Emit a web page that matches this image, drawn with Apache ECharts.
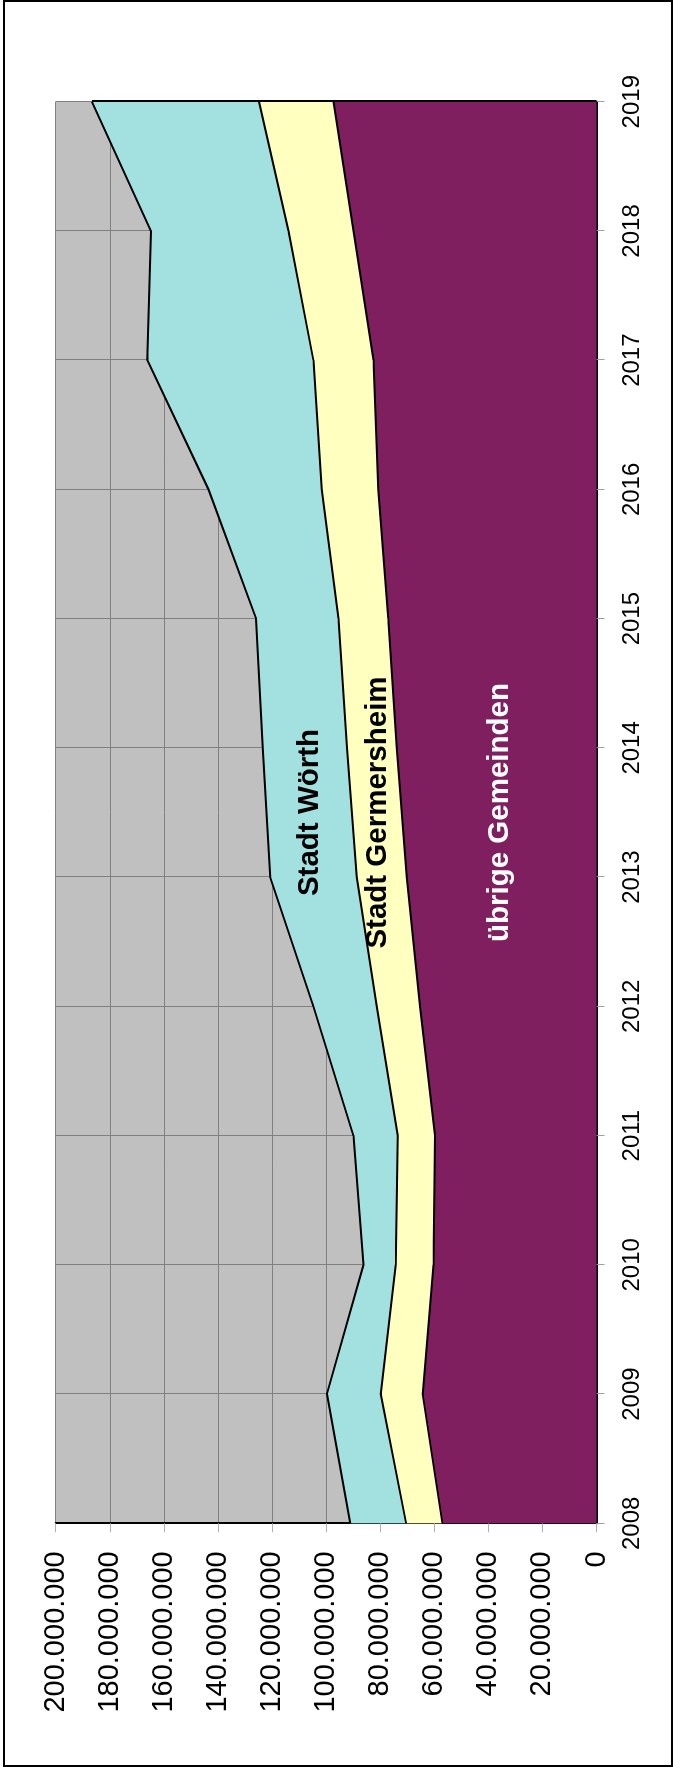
<!DOCTYPE html>
<html>
<head>
<meta charset="utf-8">
<script src="https://cdn.jsdelivr.net/npm/echarts@6/dist/echarts.min.js"></script>
<style>
  html, body { margin: 0; padding: 0; background: #fff; }
  #page { position: relative; width: 674px; height: 1767px; overflow: hidden; }
  #frame { position: absolute; left: 3px; top: 0; width: 670px; height: 1767px;
           border: 2px solid #000; box-sizing: border-box; pointer-events: none; z-index: 2; }
  /* the chart is laid out landscape and turned a quarter turn counter-clockwise */
  #chart { position: absolute; left: 0; top: 0; width: 1767px; height: 674px;
           transform-origin: 0 0; transform: translate(0, 1767px) rotate(-90deg); }
</style>
</head>
<body>
<div id="page">
  <div id="chart"></div>
  <div id="frame"></div>
</div>
<script>
// Years on the category axis
const years = ['2008', '2009', '2010', '2011', '2012', '2013', '2014', '2015', '2016', '2017', '2018', '2019'];

// Stacked amounts in euro, bottom to top
const uebrigeGemeinden = [57000000, 64300000, 60300000, 59700000, 65300000, 70200000,
                          73900000, 77000000, 80700000, 82500000, 89900000, 97300000];
const stadtGermersheim = [13400000, 15500000, 13900000, 13800000, 16000000, 18500000,
                          18400000, 18400000, 20900000, 22200000, 24000000, 27500000];
const stadtWoerth      = [20700000, 19900000, 12000000, 16400000, 23400000, 32000000,
                          31100000, 30500000, 41900000, 61400000, 50900000, 61800000];

const seriesNames = ['übrige Gemeinden', 'Stadt Germersheim', 'Stadt Wörth'];

// Value axis: 0 to 200.000.000 in steps of 20.000.000
const valueMin = 0;
const valueMax = 200000000;
const valueStep = 20000000;

// Band captions, anchored in data space (year, amount)
const captionYear = 2013.5;
const captionValues = [35700000, 80800000, 106000000];
const captionColors = ['#ffffff', '#000000', '#000000'];

const FONT = '"Liberation Sans", Arial, Helvetica, sans-serif';

function thousands(v) {
  return String(Math.round(v)).replace(/\B(?=(\d{3})+(?!\d))/g, '.');
}

const lastIdx = years.length - 1;
const topLast = uebrigeGemeinden[lastIdx] + stadtGermersheim[lastIdx] + stadtWoerth[lastIdx];

function areaSeries(name, values, color, extra) {
  return Object.assign({
    name: name,
    type: 'line',
    stack: 'total',
    xAxisIndex: 0,
    data: values,
    symbol: 'none',
    showSymbol: false,
    silent: true,
    lineStyle: { color: '#000', width: 2 },
    itemStyle: { color: color },
    areaStyle: { color: color, opacity: 1 }
  }, extra || {});
}

const chart = echarts.init(document.getElementById('chart'), null, { renderer: 'canvas' });

chart.setOption({
  animation: false,
  backgroundColor: 'transparent',
  textStyle: { fontFamily: FONT },
  grid: {
    left: 243.7, right: 101.7, top: 55.7, bottom: 77.5,
    show: true, backgroundColor: '#c0c0c0', borderWidth: 0
  },
  xAxis: [{
    type: 'category',
    data: years,
    boundaryGap: false,
    axisLine: { show: true, lineStyle: { color: '#000', width: 2 } },
    axisTick: { show: true, length: 8, interval: 0, lineStyle: { color: '#a0a0a0', width: 1 } },
    axisLabel: { fontSize: 24, color: '#000', margin: 24, interval: 0, fontFamily: FONT },
    splitLine: { show: true, interval: 0, lineStyle: { color: '#808080', width: 1 } }
  }, {
    // hidden numeric twin of the year axis, used to place the band captions
    type: 'value',
    position: 'bottom',
    min: Number(years[0]),
    max: Number(years[lastIdx]),
    show: false
  }],
  yAxis: {
    type: 'value',
    min: valueMin,
    max: valueMax,
    interval: valueStep,
    axisLine: { show: true, lineStyle: { color: '#000', width: 2 } },
    axisTick: { show: true, length: 9, lineStyle: { color: '#b0b0b0', width: 1 } },
    axisLabel: {
      fontSize: 29, color: '#000', margin: 28, fontFamily: FONT,
      formatter: v => thousands(v)
    },
    splitLine: { show: true, lineStyle: { color: '#808080', width: 1 } }
  },
  series: [
    areaSeries(seriesNames[0], uebrigeGemeinden, '#7f1f5f'),
    areaSeries(seriesNames[1], stadtGermersheim, '#ffffc0'),
    areaSeries(seriesNames[2], stadtWoerth, '#a3e0e0', {
      // closing edge of the stacked areas at the last year
      markLine: {
        silent: true,
        symbol: ['none', 'none'],
        label: { show: false },
        lineStyle: { color: '#000', width: 2, type: 'solid' },
        data: [[{ coord: [years[lastIdx], 0] }, { coord: [years[lastIdx], topLast] }]]
      }
    }),
    {
      type: 'scatter',
      xAxisIndex: 1,
      silent: true,
      z: 10,
      symbolSize: 0,
      itemStyle: { color: '#000', opacity: 1 },
      label: {
        show: true,
        position: 'inside',
        fontSize: 29.5,
        fontWeight: 'bold',
        fontFamily: FONT,
        textBorderWidth: 0,
        textBorderColor: 'transparent',
        textShadowBlur: 0,
        opacity: 1,
        formatter: '{b}'
      },
      data: seriesNames.map((n, i) => ({
        name: n,
        value: [captionYear, captionValues[i]],
        label: { color: captionColors[i], textBorderWidth: 0 }
      }))
    }
  ]
});
</script>
</body>
</html>
